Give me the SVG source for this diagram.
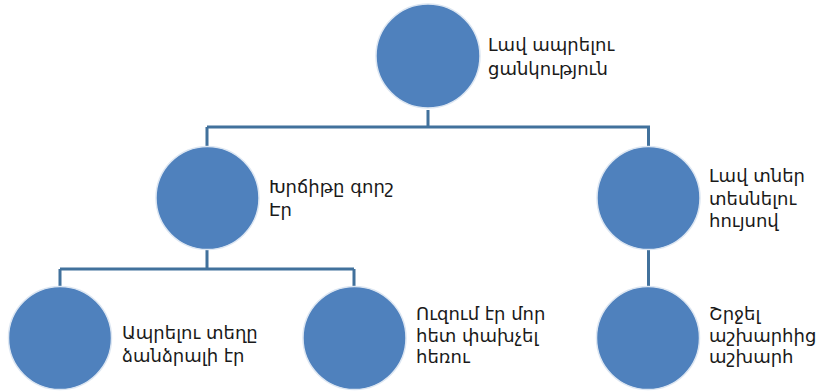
<svg xmlns="http://www.w3.org/2000/svg" width="823" height="392" viewBox="0 0 823 392">
<style>
.n{fill:#4F81BD;stroke:#DCE6F2;stroke-width:1.5}
.c{fill:none;stroke:#41719C;stroke-width:3}
.t{font-family:"DejaVu Sans","Noto Sans",sans-serif;font-size:18px;fill:#1a1a1a}
</style>
<rect width="823" height="392" fill="#fff"/>
<g id="connectors">
<path class="c" d="M428,110 V127 M207,127 H650 M207,127 V146 M648.5,127 V146"/>
<path class="c" d="M207,249 V269 M60,269 H354 M60,269 V286 M354,269 V286"/>
<path class="c" d="M648.5,249 V286"/>
</g>
<g id="n1"><circle class="n" cx="428" cy="56" r="52"/><text class="t" x="488"><tspan x="488" y="51">Լավ ապրելու</tspan><tspan x="488" y="75">ցանկություն</tspan></text></g>
<g id="n2"><circle class="n" cx="207.5" cy="198" r="51.5"/><text class="t"><tspan x="269" y="193">Խրճիթը գորշ</tspan><tspan x="269" y="216">Էր</tspan></text></g>
<g id="n3"><circle class="n" cx="648.5" cy="198" r="51.5"/><text class="t"><tspan x="709" y="182">Լավ տներ</tspan><tspan x="709" y="205">տեսնելու</tspan><tspan x="709" y="227">հույսով</tspan></text></g>
<g id="n4"><circle class="n" cx="60" cy="338" r="51.5"/><text class="t"><tspan x="122" y="339">Ապրելու տեղը</tspan><tspan x="122" y="362">ձանձրալի էր</tspan></text></g>
<g id="n5"><circle class="n" cx="354.5" cy="338" r="51.5"/><text class="t"><tspan x="416" y="320">Ուզում էր մոր</tspan><tspan x="416" y="342">հետ փախչել</tspan><tspan x="416" y="363">հեռու</tspan></text></g>
<g id="n6"><circle class="n" cx="648" cy="338" r="51.5"/><text class="t"><tspan x="709" y="320">Շրջել</tspan><tspan x="709" y="342">աշխարհից</tspan><tspan x="709" y="363">աշխարհ</tspan></text></g>
</svg>
